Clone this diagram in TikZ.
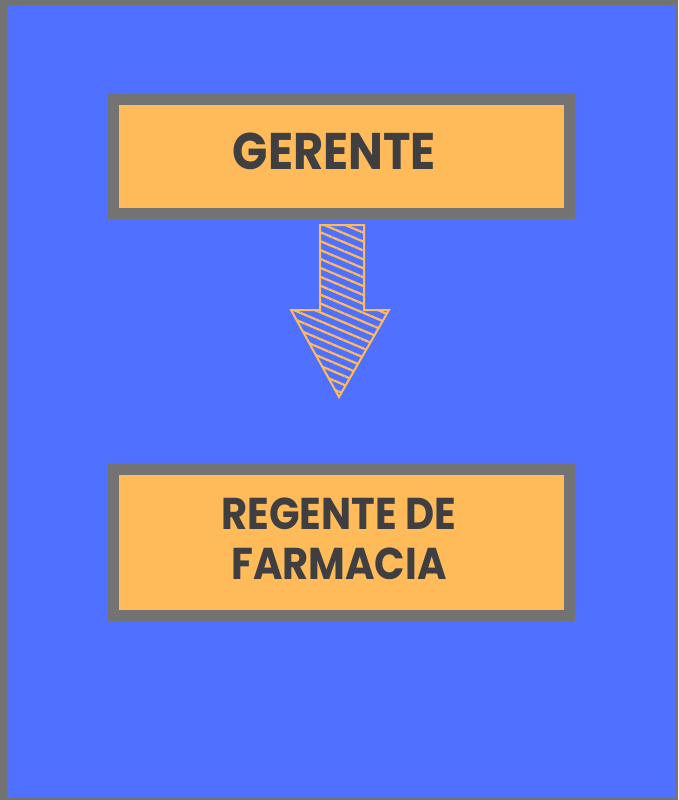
\documentclass[tikz,border=0pt]{standalone}
\usepackage{fontspec}
\setmainfont{Poppins}[FakeStretch=0.9]
\usepackage{tikz}
\usetikzlibrary{positioning,patterns.meta}
\usepackage{xcolor}
\definecolor{framegray}{HTML}{737373}
\definecolor{bgblue}{HTML}{5070FF}
\definecolor{boxorange}{HTML}{FFBB5A}
\definecolor{darktext}{HTML}{3F3F41}

\begin{document}
\begin{tikzpicture}[x=1pt,y=-1pt]
    \tikzstyle{post} = [draw=framegray,line width=11pt,fill=boxorange,minimum width=456.5pt,inner sep=0pt]
    \tikzstyle{title} = [text=darktext,inner sep=0pt,align=center]
    \tikzstyle{hatch} = [draw=boxorange,line width=2pt,line join=miter,pattern={Lines[angle=-23,distance=8.2pt,line width=2.2pt]},pattern color=boxorange]
    % frame
    \fill[framegray] (0,0) rectangle (678,800);
    \fill[bgblue] (7,5) rectangle (676,798);
    % boxes
    \node[post,minimum height=114pt] (gerente) at (341.5,156.5) {};
    \node[post,minimum height=146pt] (regente) at (341.5,542) {};
    \node[title,font=\bfseries\fontsize{51.5}{51.5}\selectfont] (gerentetxt) at (334.5,151) {GERENTE};
    \node[title,font=\bfseries\fontsize{44.5}{50}\selectfont] (regentetxt) at (339,538.5) {REGENTE DE\\FARMACIA};
    % hatched arrow
    \coordinate (tip) at (339,397);
    \draw[hatch] (320,225) -- (364,225) -- (364,310) -- (389,310) -- (tip) -- (291,310) -- (320,310) -- cycle;
\end{tikzpicture}
\end{document}
